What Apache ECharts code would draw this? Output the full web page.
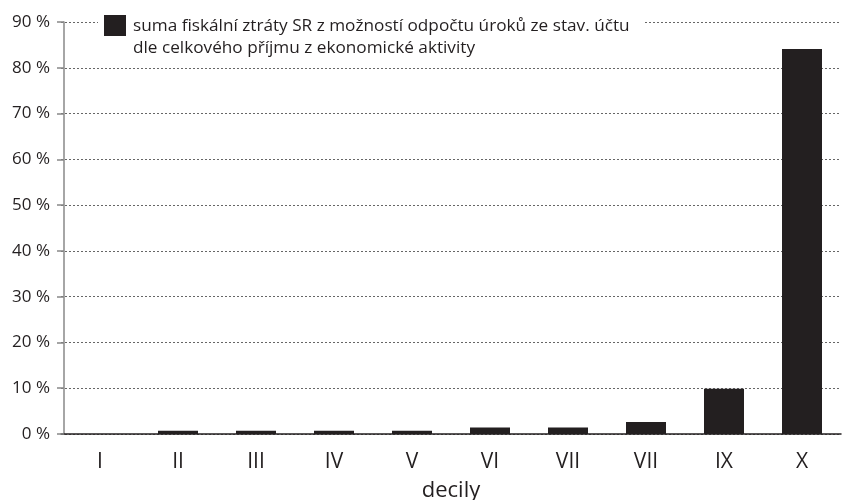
<!DOCTYPE html>
<html><head><meta charset="utf-8">
<script src="https://cdn.jsdelivr.net/npm/echarts@6/dist/echarts.min.js"></script>
<style>html,body{margin:0;padding:0;background:#fff}#c{width:858px;height:500px}</style>
</head><body><div id="c"></div>
<script>
const categories = ['I','II','III','IV','V','VI','VII','VII','IX','X'];
const values = [0, 0.7, 0.7, 0.7, 0.7, 1.4, 1.4, 2.6, 9.9, 84.1];
const seriesName = 'suma fiskální ztráty SR z možností odpočtu úroků ze stav. účtu\ndle celkového příjmu z ekonomické aktivity';
const xName = 'decily';
const yMin = 0, yMax = 90, yStep = 10;

const chart = echarts.init(document.getElementById('c'));
const FONT = 'Open Sans';
chart.setOption({
  animation: false,
  backgroundColor: '#fff',
  legend: {
    left: 98, top: 10,
    backgroundColor: '#fff',
    padding: [5, 14, 4, 6],
    itemWidth: 22, itemHeight: 44,
    itemGap: 0,
    icon: 'path://M0,0h22v21h-22z M0,44h0.01v0.01h-0.01z',
    textStyle: { fontFamily: FONT, fontSize: 17.2, color: '#231f20', lineHeight: 22, padding: [0, 0, 0, 2] },
    data: [seriesName]
  },
  grid: { left: 61, right: 17, top: 22, bottom: 66, containLabel: false, outerBoundsMode: 'none' },
  xAxis: {
    type: 'category',
    data: categories,
    name: xName,
    nameLocation: 'middle',
    nameGap: 46,
    nameTextStyle: { fontFamily: FONT, fontSize: 22, color: '#231f20' },
    axisLine: { lineStyle: { color: '#231f20', width: 1.5 } },
    axisTick: { length: 8, lineStyle: { color: '#888', width: 1.5 } },
    axisLabel: { fontFamily: FONT, fontSize: 21, color: '#231f20', margin: 18 }
  },
  yAxis: {
    type: 'value',
    min: yMin, max: yMax, interval: yStep,
    offset: -3,
    axisLine: { show: true, lineStyle: { color: '#888', width: 1.5 } },
    axisTick: { show: true, length: 7, lineStyle: { color: '#888', width: 1.5 } },
    axisLabel: { fontFamily: FONT, fontSize: 17, color: '#231f20', margin: 14, formatter: '{value} %' },
    splitLine: { show: true, lineStyle: { color: '#666', width: 1, type: [2, 2] } }
  },
  series: [{
    name: seriesName,
    type: 'bar',
    data: values,
    barWidth: 40,
    itemStyle: { color: '#231f20' }
  }]
});
</script></body></html>
